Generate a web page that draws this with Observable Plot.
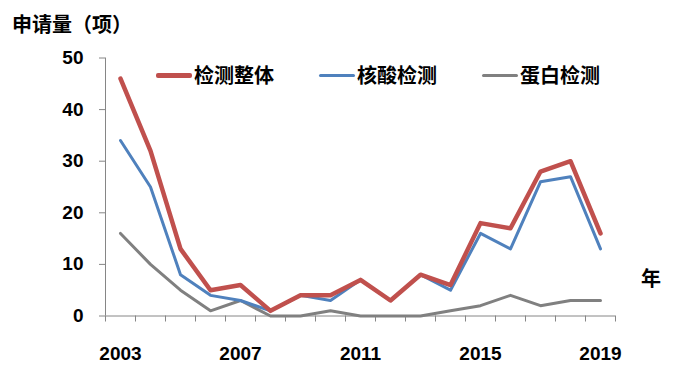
<!DOCTYPE html>
<html>
<head>
<meta charset="utf-8">
<script src="https://cdn.jsdelivr.net/npm/d3@7"></script>
<script src="https://cdn.jsdelivr.net/npm/@observablehq/plot@0.6"></script>
<style>
  html, body { margin: 0; padding: 0; background: #fff; }
  #wrap { position: relative; width: 700px; height: 378px; overflow: hidden; font-family: "Noto Sans CJK SC", "Liberation Sans", sans-serif; }
  .lbl { position: absolute; font-weight: bold; color: #000; white-space: nowrap; font-family: "Noto Sans CJK SC", sans-serif; line-height: 1; }
  .leg { position: absolute; display: flex; align-items: center; font-weight: bold; font-size: 20px; font-family: "Noto Sans CJK SC", sans-serif; line-height: 1; }
  .leg span.sw { display: inline-block; width: 36px; border-radius: 2px; margin-right: 2px; }
</style>
</head>
<body>
<div id="wrap"></div>
<script>
const years = [2003,2004,2005,2006,2007,2008,2009,2010,2011,2012,2013,2014,2015,2016,2017,2018,2019];
const total   = [46,32,13,5,6,1,4,4,7,3,8,6,18,17,28,30,16];
const nucleic = [34,25,8,4,3,1,4,3,7,3,8,5,16,13,26,27,13];
const protein = [16,10,5,1,3,0,0,1,0,0,0,1,2,4,2,3,3];
const seriesNames = ["检测整体","核酸检测","蛋白检测"];
const seriesColors = ["#C0504D","#4F81BD","#808080"];
const seriesWidths = [4.5,3,3];
const xTickLabels = [2003,2007,2011,2015,2019];
const yTicks = [0,10,20,30,40,50];

const values = [total, nucleic, protein];
const rows = [];
values.forEach((arr, s) => arr.forEach((v, i) => rows.push({year: years[i], value: v, series: seriesNames[s]})));
const bounds = d3.range(years[0] - 0.5, years[years.length-1] + 1, 1);

const chart = Plot.plot({
  width: 700,
  height: 378,
  marginLeft: 105,
  marginRight: 85,
  marginTop: 57.5,
  marginBottom: 62.5,
  style: {fontFamily: "'Liberation Sans', Arial, sans-serif", background: "#fff"},
  x: {domain: [years[0] - 0.5, years[years.length-1] + 0.5]},
  y: {domain: [0, 50]},
  marks: [
    Plot.ruleX([years[0] - 0.5], {stroke: "#868686", strokeWidth: 1}),
    Plot.ruleY([0], {stroke: "#868686", strokeWidth: 1}),
    Plot.axisY({ticks: yTicks, tickSize: 6, tickPadding: 16, stroke: "#868686", fontSize: 19, fontWeight: "bold", fill: "#000", label: null}),
    Plot.axisX({ticks: bounds, tickSize: 6, tickFormat: () => "", stroke: "#868686", label: null}),
    Plot.axisX({ticks: xTickLabels, tickSize: 0, tickPadding: 30, tickFormat: d => String(d), fontSize: 19, fontWeight: "bold", fill: "#000", label: null}),
    ...seriesNames.slice().reverse().map((name) => {
      const idx = seriesNames.indexOf(name);
      return Plot.line(rows.filter(r => r.series === name), {x: "year", y: "value", stroke: seriesColors[idx], strokeWidth: seriesWidths[idx], strokeLinejoin: "round", strokeLinecap: "round"});
    })
  ]
});
const wrap = document.getElementById("wrap");
wrap.appendChild(chart);

function addLabel(text, left, top, size) {
  const d = document.createElement("div");
  d.className = "lbl";
  d.textContent = text;
  d.style.left = left + "px";
  d.style.top = top + "px";
  d.style.fontSize = size + "px";
  wrap.appendChild(d);
}
addLabel("申请量（项）", 12, 14, 20);
addLabel("年", 641, 268, 20);

const legPos = [156, 319, 482];
seriesNames.forEach((name, i) => {
  const d = document.createElement("div");
  d.className = "leg";
  d.style.left = legPos[i] + "px";
  d.style.top = "65px";
  const sw = document.createElement("span");
  sw.className = "sw";
  sw.style.height = (i === 0 ? 5 : 3) + "px";
  sw.style.background = seriesColors[i];
  d.appendChild(sw);
  const t = document.createElement("span");
  t.textContent = name;
  d.appendChild(t);
  wrap.appendChild(d);
});
</script>
</body>
</html>
